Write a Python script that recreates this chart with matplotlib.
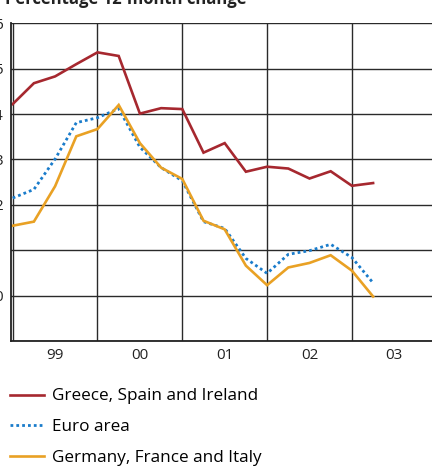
import matplotlib.pyplot as plt
from matplotlib.ticker import FixedLocator, NullFormatter, FixedFormatter

plt.rcParams['font.family'] = ['Open Sans', 'DejaVu Sans']

# quarterly observations, 1999Q1 .. 2003Q2
quarters = ["1999Q1", "1999Q2", "1999Q3", "1999Q4", "2000Q1", "2000Q2",
            "2000Q3", "2000Q4", "2001Q1", "2001Q2", "2001Q3", "2001Q4",
            "2002Q1", "2002Q2", "2002Q3", "2002Q4", "2003Q1", "2003Q2"]
greece_spain_ireland = [4.22, 4.68, 4.83, 5.10, 5.36, 5.28, 4.01, 4.13, 4.11,
                        3.15, 3.36, 2.73, 2.84, 2.80, 2.58, 2.74, 2.42, 2.48]
euro_area = [2.15, 2.34, 3.01, 3.81, 3.92, 4.12, 3.27, 2.82, 2.53,
             1.63, 1.48, 0.82, 0.49, 0.91, 0.99, 1.13, 0.84, 0.28]
germany_france_italy = [1.54, 1.63, 2.41, 3.51, 3.67, 4.20, 3.36, 2.82, 2.57,
                        1.65, 1.46, 0.66, 0.23, 0.62, 0.72, 0.89, 0.55, -0.02]
year_labels = ["99", "00", "01", "02", "03"]
y_ticks = [-1, 0, 1, 2, 3, 4, 5, 6]

x = [int(q[:4]) + (int(q[-1]) - 1) * 0.25 for q in quarters]

W, H = 432, 466
fig = plt.figure(figsize=(W / 100, H / 100), dpi=100)
# axes run past the right edge of the picture, like the cropped original
ax = fig.add_axes([11 / W, 1 - 341 / H, 424 / W, (341 - 23.3) / H])

red = '#a6282f'
blue = '#1a7ccb'
orange = '#e9a124'

ax.plot(x, greece_spain_ireland, color=red, lw=1.9, label='Greece, Spain and Ireland',
        solid_joinstyle='miter')
ax.plot(x, euro_area, color=blue, lw=2.0, linestyle=(0, (1, 1.1)), label='Euro area')
ax.plot(x, germany_france_italy, color=orange, lw=1.9, label='Germany, France and Italy',
        solid_joinstyle='miter')

ax.set_xlim(1998.98, 2003.98)
ax.set_ylim(-1, 6)

years = [1999, 2000, 2001, 2002, 2003]
ax.xaxis.set_major_locator(FixedLocator(years + [2004]))
ax.xaxis.set_major_formatter(NullFormatter())
ax.xaxis.set_minor_locator(FixedLocator([y + 0.5 for y in years]))
ax.xaxis.set_minor_formatter(FixedFormatter(year_labels))
ax.tick_params(axis='x', which='both', length=0, pad=5, labelsize=11, colors='#222222')
ax.set_yticks(y_ticks)
ax.set_yticklabels([str(v) for v in y_ticks])
ax.tick_params(axis='y', length=0, pad=6, labelsize=11, colors='#222222')

ax.grid(True, which='major', color='#2a2a2a', lw=1.0)
ax.set_axisbelow(True)
for side in ['top', 'right']:
    ax.spines[side].set_visible(False)
for side in ['left', 'bottom']:
    ax.spines[side].set_color('#222222')
    ax.spines[side].set_linewidth(1.3)

fig.text(5 / W, 1 - 4 / H, 'Percentage 12-month change', fontsize=12,
         fontweight='bold', va='baseline', ha='left', color='#222222')

fig.legend(loc='upper left', bbox_to_anchor=(10 / W, 1 - 388.5 / H), frameon=False,
           fontsize=12.3, handlelength=2.0, handletextpad=0.45, labelspacing=0.87,
           borderaxespad=0, borderpad=0)

fig.savefig('out.png', dpi=100)
